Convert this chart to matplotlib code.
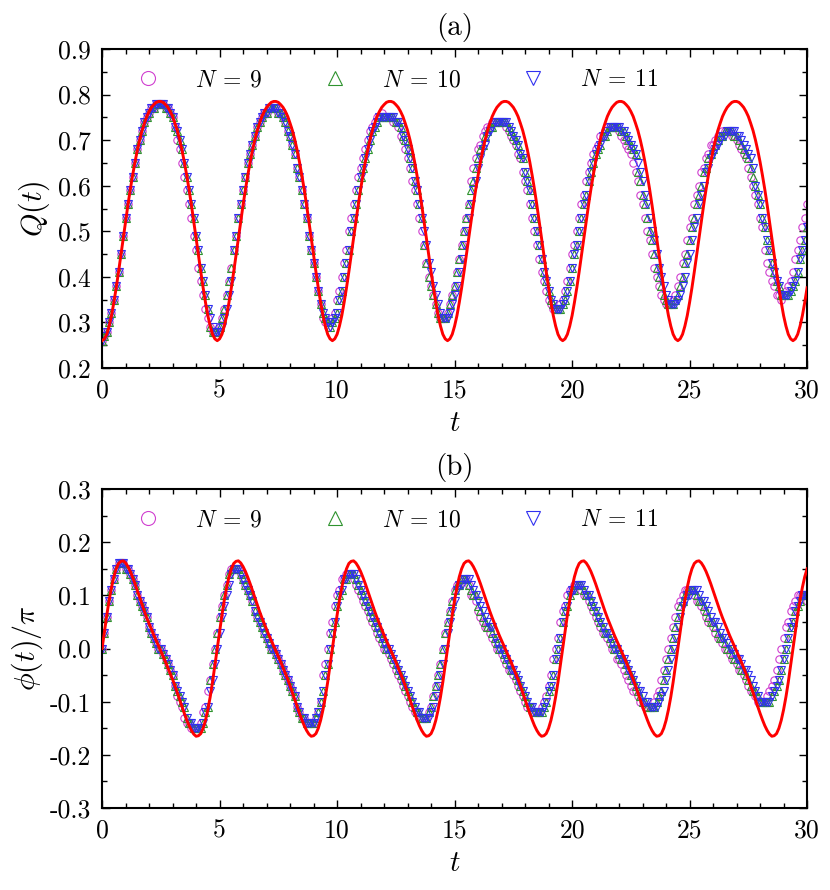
import numpy as np
import matplotlib
matplotlib.use("Agg")
import matplotlib.pyplot as plt
from matplotlib.ticker import MultipleLocator, FormatStrFormatter

plt.rcParams['font.family'] = 'serif'
plt.rcParams['font.serif'] = ['cmr10']
plt.rcParams['mathtext.fontset'] = 'cm'
plt.rcParams['axes.unicode_minus'] = False

# ---------------- data ----------------
t = np.round(np.arange(301) * 0.1, 1)          # sampling grid 0 ... 30

# red theory curve Q(t) (x1000)
Q_red_x1000 = [
    260, 264, 274, 292, 315, 344, 376, 411, 448, 485, 522, 558, 592, 623, 652, 678, 701, 721, 737, 752,
    763, 772, 778, 783, 785, 785, 783, 778, 772, 763, 752, 737, 721, 701, 678, 652, 623, 592, 558, 522,
    485, 448, 411, 376, 344, 315, 292, 274, 264,
    260, 264, 274, 292, 315, 344, 376, 411, 448, 485, 522, 558, 592, 623, 652, 678, 701, 721, 737, 752,
    763, 772, 778, 783, 785, 785, 783, 778, 772, 763, 752, 737, 721, 701, 678, 652, 623, 592, 558, 522,
    485, 448, 411, 376, 344, 315, 292, 274, 264,
    260, 264, 274, 292, 315, 344, 376, 411, 448, 485, 522, 558, 592, 623, 652, 678, 701, 721, 737, 752,
    763, 772, 778, 783, 785, 785, 783, 778, 772, 763, 752, 737, 721, 701, 678, 652, 623, 592, 558, 522,
    485, 448, 411, 376, 344, 315, 292, 274, 264,
    260, 264, 274, 292, 315, 344, 376, 411, 448, 485, 522, 558, 592, 623, 652, 678, 701, 721, 737, 752,
    763, 772, 778, 783, 785, 785, 783, 778, 772, 763, 752, 737, 721, 701, 678, 652, 623, 592, 558, 522,
    485, 448, 411, 376, 344, 315, 292, 274, 264,
    260, 264, 274, 292, 315, 344, 376, 411, 448, 485, 522, 558, 592, 623, 652, 678, 701, 721, 737, 752,
    763, 772, 778, 783, 785, 785, 783, 778, 772, 763, 752, 737, 721, 701, 678, 652, 623, 592, 558, 522,
    485, 448, 411, 376, 344, 315, 292, 274, 264,
    260, 264, 274, 292, 315, 344, 376, 411, 448, 485, 522, 558, 592, 623, 652, 678, 701, 721, 737, 752,
    763, 772, 778, 783, 785, 785, 783, 778, 772, 763, 752, 737, 721, 701, 678, 652, 623, 592, 558, 522,
    485, 448, 411, 376, 344, 315, 292, 274, 264,
    260, 264, 274, 292, 315, 344, 376]

# red theory curve phi(t)/pi (x1000)
P_red_x1000 = [
    0, 32, 63, 91, 115, 135, 150, 160, 164, 165, 161, 154, 145, 134, 122, 109, 96, 83, 70, 58,
    47, 36, 25, 15, 5, -5, -15, -25, -36, -47, -58, -70, -83, -96, -109, -122, -134, -145, -154, -161,
    -165, -164, -160, -150, -135, -115, -91, -63, -32,
    0, 32, 63, 91, 115, 135, 150, 160, 164, 165, 161, 154, 145, 134, 122, 109, 96, 83, 70, 58,
    47, 36, 25, 15, 5, -5, -15, -25, -36, -47, -58, -70, -83, -96, -109, -122, -134, -145, -154, -161,
    -165, -164, -160, -150, -135, -115, -91, -63, -32,
    0, 32, 63, 91, 115, 135, 150, 160, 164, 165, 161, 154, 145, 134, 122, 109, 96, 83, 70, 58,
    47, 36, 25, 15, 5, -5, -15, -25, -36, -47, -58, -70, -83, -96, -109, -122, -134, -145, -154, -161,
    -165, -164, -160, -150, -135, -115, -91, -63, -32,
    0, 32, 63, 91, 115, 135, 150, 160, 164, 165, 161, 154, 145, 134, 122, 109, 96, 83, 70, 58,
    47, 36, 25, 15, 5, -5, -15, -25, -36, -47, -58, -70, -83, -96, -109, -122, -134, -145, -154, -161,
    -165, -164, -160, -150, -135, -115, -91, -63, -32,
    0, 32, 63, 91, 115, 135, 150, 160, 164, 165, 161, 154, 145, 134, 122, 109, 96, 83, 70, 58,
    47, 36, 25, 15, 5, -5, -15, -25, -36, -47, -58, -70, -83, -96, -109, -122, -134, -145, -154, -161,
    -165, -164, -160, -150, -135, -115, -91, -63, -32,
    0, 32, 63, 91, 115, 135, 150, 160, 164, 165, 161, 154, 145, 134, 122, 109, 96, 83, 70, 58,
    47, 36, 25, 15, 5, -5, -15, -25, -36, -47, -58, -70, -83, -96, -109, -122, -134, -145, -154, -161,
    -165, -164, -160, -150, -135, -115, -91, -63, -32,
    0, 32, 63, 91, 115, 135, 150]

# numerical data, Q(t) (x100), one row per unit of t
Q9_x100 = [
    26, 27, 28, 30, 32, 35, 38, 41, 45, 49,
    53, 56, 59, 62, 65, 68, 70, 72, 74, 75,
    76, 77, 77, 78, 78, 78, 78, 77, 77, 76,
    75, 73, 70, 68, 65, 62, 59, 56, 53, 49,
    46, 42, 39, 36, 33, 31, 29, 28, 28, 28,
    29, 31, 33, 36, 39, 42, 46, 49, 53, 56,
    59, 62, 65, 67, 69, 71, 73, 74, 75, 76,
    76, 77, 77, 77, 77, 76, 76, 75, 74, 72,
    71, 69, 67, 64, 62, 59, 56, 53, 49, 46,
    43, 40, 37, 34, 31, 30, 29, 30, 31, 32,
    35, 37, 40, 43, 46, 50, 53, 56, 59, 62,
    64, 66, 68, 70, 72, 73, 74, 75, 75, 76,
    75, 75, 75, 75, 74, 74, 73, 71, 70, 68,
    66, 64, 61, 59, 56, 53, 50, 47, 43, 40,
    38, 36, 34, 32, 31, 31, 31, 32, 34, 36,
    38, 41, 44, 47, 50, 53, 56, 61, 64, 66,
    68, 69, 71, 72, 73, 73, 74, 74, 74, 74,
    74, 74, 73, 72, 71, 70, 69, 67, 66, 63,
    61, 59, 56, 53, 50, 47, 44, 41, 39, 37,
    35, 34, 33, 33, 33, 34, 35, 37, 39, 42,
    45, 47, 50, 53, 56, 58, 61, 63, 65, 67,
    68, 69, 71, 71, 72, 73, 73, 73, 73, 73,
    72, 71, 70, 69, 68, 67, 65, 63, 61, 58,
    56, 53, 50, 48, 45, 42, 40, 38, 36, 35,
    34, 34, 34, 35, 36, 38, 40, 43, 45, 48,
    51, 53, 56, 58, 60, 63, 64, 66, 67, 69,
    69, 70, 71, 71, 72, 72, 72, 72, 71, 71,
    70, 69, 68, 67, 66, 64, 62, 60, 58, 56,
    53, 51, 46, 43, 41, 39, 38, 36, 36, 35,
    36, 37, 38, 39, 41, 44, 46, 48, 51, 53,
    56]
Q10_x100 = [
    26, 27, 28, 30, 32, 35, 38, 41, 45, 49,
    53, 56, 59, 62, 65, 68, 70, 72, 74, 75,
    76, 77, 77, 78, 78, 78, 78, 77, 77, 76,
    75, 73, 72, 70, 68, 65, 62, 59, 56, 53,
    49, 46, 42, 39, 36, 33, 29, 28, 28, 28,
    29, 31, 33, 36, 39, 42, 46, 49, 53, 56,
    59, 62, 65, 67, 69, 71, 73, 74, 75, 76,
    76, 77, 77, 77, 77, 76, 76, 75, 74, 72,
    71, 69, 67, 64, 62, 59, 56, 53, 49, 46,
    43, 40, 37, 34, 32, 31, 30, 29, 30, 31,
    32, 35, 37, 40, 43, 46, 50, 53, 56, 59,
    62, 64, 66, 68, 70, 72, 73, 74, 75, 75,
    75, 75, 75, 75, 75, 74, 74, 73, 71, 70,
    68, 66, 64, 61, 59, 56, 53, 47, 43, 40,
    38, 36, 34, 32, 31, 31, 31, 32, 34, 36,
    38, 41, 44, 47, 50, 53, 56, 59, 61, 64,
    66, 68, 69, 71, 72, 73, 73, 74, 74, 74,
    74, 74, 74, 73, 72, 71, 70, 69, 67, 66,
    63, 61, 59, 56, 53, 50, 47, 44, 41, 39,
    37, 35, 34, 33, 33, 33, 34, 35, 37, 39,
    42, 45, 47, 50, 53, 56, 58, 61, 63, 65,
    67, 68, 69, 71, 71, 72, 73, 73, 73, 73,
    73, 72, 72, 71, 70, 69, 68, 67, 63, 61,
    58, 56, 53, 50, 48, 45, 42, 40, 38, 36,
    35, 34, 34, 34, 35, 36, 38, 40, 43, 45,
    48, 51, 53, 56, 58, 60, 63, 64, 66, 67,
    68, 69, 70, 71, 71, 72, 72, 72, 72, 71,
    71, 70, 69, 68, 67, 66, 64, 62, 60, 58,
    56, 53, 51, 48, 46, 43, 41, 39, 38, 36,
    36, 36, 36, 37, 38, 39, 41, 44, 46, 48,
    51]
Q11_x100 = [
    26, 27, 28, 30, 32, 35, 38, 41, 45, 49,
    53, 56, 59, 62, 65, 68, 70, 72, 74, 75,
    76, 77, 77, 78, 78, 78, 78, 77, 77, 76,
    75, 73, 72, 70, 68, 65, 62, 59, 56, 53,
    49, 46, 42, 39, 36, 33, 31, 29, 28, 28,
    28, 29, 31, 33, 36, 39, 46, 49, 53, 56,
    59, 62, 65, 67, 69, 71, 73, 74, 75, 76,
    76, 77, 77, 77, 77, 76, 76, 75, 74, 72,
    71, 69, 67, 64, 62, 59, 56, 53, 49, 46,
    43, 40, 37, 34, 32, 31, 30, 29, 30, 31,
    32, 35, 37, 40, 43, 46, 50, 53, 56, 59,
    62, 64, 66, 68, 70, 72, 73, 74, 75, 75,
    75, 75, 75, 75, 75, 74, 74, 73, 71, 70,
    68, 66, 64, 61, 59, 56, 53, 50, 47, 43,
    41, 38, 36, 34, 32, 31, 31, 31, 32, 34,
    36, 38, 41, 44, 47, 50, 53, 56, 59, 61,
    64, 66, 68, 69, 71, 72, 73, 74, 74, 74,
    74, 74, 74, 73, 72, 71, 70, 69, 67, 66,
    63, 61, 59, 56, 53, 50, 47, 44, 41, 39,
    37, 35, 34, 33, 33, 33, 34, 35, 37, 39,
    42, 45, 47, 50, 53, 56, 58, 61, 63, 65,
    67, 68, 69, 71, 71, 72, 73, 73, 73, 73,
    73, 72, 72, 71, 70, 69, 68, 67, 65, 63,
    61, 58, 56, 53, 50, 48, 45, 42, 40, 38,
    36, 35, 34, 34, 34, 35, 36, 38, 40, 43,
    45, 48, 51, 53, 56, 58, 60, 63, 64, 66,
    67, 68, 69, 70, 71, 71, 72, 72, 72, 72,
    71, 71, 70, 69, 68, 67, 66, 64, 60, 58,
    56, 53, 51, 48, 46, 43, 41, 39, 38, 36,
    36, 36, 36, 37, 38, 39, 41, 44, 46, 48,
    51]

# numerical data, phi(t)/pi (x100)
P9_x100 = [
    0, 3, 6, 9, 11, 13, 15, 16, 16, 16,
    15, 15, 14, 13, 12, 10, 9, 8, 7, 6,
    4, 3, 2, 1, 0, 0, -1, -2, -3, -4,
    -5, -7, -9, -10, -11, -13, -14, -14, -15, -15,
    -15, -15, -14, -12, -11, -8, -6, -3, 0, 3,
    6, 8, 10, 12, 14, 15, 15, 15, 15, 14,
    13, 12, 11, 10, 9, 7, 6, 5, 4, 3,
    2, 1, 0, 0, -1, -2, -3, -4, -5, -6,
    -7, -8, -9, -11, -12, -13, -13, -14, -14, -14,
    -14, -13, -12, -10, -5, -3, 0, 3, 5, 8,
    10, 11, 13, 13, 14, 14, 14, 13, 12, 11,
    10, 9, 8, 7, 6, 5, 4, 3, 2, 1,
    0, 0, -1, -2, -3, -4, -5, -6, -7, -8,
    -9, -10, -11, -12, -12, -13, -13, -13, -13, -12,
    -11, -9, -7, -5, -3, 0, 3, 5, 7, 9,
    11, 12, 12, 13, 13, 13, 12, 10, 10, 9,
    7, 6, 5, 4, 4, 3, 2, 1, 0, 0,
    -1, -2, -3, -4, -4, -5, -6, -7, -8, -9,
    -10, -11, -11, -12, -12, -12, -12, -11, -10, -9,
    -7, -5, -2, 0, 2, 5, 7, 8, 10, 11,
    11, 12, 12, 12, 11, 10, 10, 9, 8, 7,
    6, 5, 4, 3, 3, 2, 1, 0, 0, -2,
    -2, -3, -4, -5, -6, -7, -8, -8, -9, -10,
    -10, -11, -11, -11, -11, -10, -9, -8, -6, -4,
    -2, 0, 2, 4, 6, 8, 9, 10, 11, 11,
    11, 11, 10, 9, 9, 8, 7, 6, 5, 5,
    4, 3, 2, 2, 1, 0, 0, -1, -2, -2,
    -3, -4, -4, -5, -6, -7, -8, -8, -9, -10,
    -10, -10, -10, -9, -8, -7, -6, -4, -2, 0,
    2, 4, 5, 7, 8, 9, 10, 10, 10, 10,
    9]
P10_x100 = [
    0, 3, 6, 9, 11, 13, 15, 16, 16, 16,
    15, 15, 14, 13, 12, 10, 9, 8, 7, 6,
    4, 3, 2, 1, 0, 0, -1, -2, -3, -4,
    -5, -7, -8, -9, -10, -11, -13, -14, -14, -15,
    -15, -15, -15, -14, -12, -11, -6, -3, 0, 3,
    6, 8, 10, 12, 14, 15, 15, 15, 15, 14,
    13, 12, 11, 10, 9, 7, 6, 5, 4, 3,
    2, 1, 0, 0, -1, -2, -3, -4, -5, -6,
    -7, -8, -9, -11, -12, -13, -13, -14, -14, -14,
    -14, -13, -12, -10, -8, -5, -3, 0, 3, 5,
    8, 10, 11, 13, 13, 14, 14, 14, 13, 12,
    11, 10, 9, 8, 7, 6, 5, 4, 3, 2,
    1, 0, 0, -1, -2, -3, -4, -5, -6, -7,
    -8, -9, -10, -11, -12, -12, -13, -13, -13, -12,
    -11, -9, -7, -5, -3, 0, 3, 5, 7, 9,
    11, 12, 12, 13, 13, 13, 12, 11, 10, 10,
    8, 7, 6, 5, 4, 4, 3, 2, 1, 0,
    0, -1, -2, -3, -4, -4, -5, -6, -7, -8,
    -9, -10, -11, -11, -12, -12, -12, -12, -11, -10,
    -8, -7, -5, -2, 0, 2, 5, 7, 8, 10,
    11, 11, 12, 12, 12, 11, 10, 10, 9, 8,
    7, 6, 5, 4, 3, 3, 2, 1, 0, 0,
    -1, -2, -2, -3, -4, -5, -6, -7, -8, -9,
    -10, -10, -11, -11, -11, -11, -10, -9, -8, -6,
    -4, -2, 0, 2, 4, 6, 8, 9, 10, 11,
    11, 11, 11, 10, 9, 9, 8, 7, 6, 5,
    5, 4, 3, 2, 2, 1, 0, 0, -1, -2,
    -2, -3, -4, -4, -5, -6, -7, -8, -8, -9,
    -10, -10, -10, -10, -10, -9, -8, -7, -6, -4,
    -2, 0, 2, 4, 5, 7, 8, 9, 10, 10,
    10]
P11_x100 = [
    0, 3, 6, 9, 11, 13, 15, 16, 16, 16,
    15, 15, 14, 13, 12, 10, 9, 8, 7, 6,
    4, 3, 2, 1, 0, 0, -1, -2, -3, -4,
    -5, -7, -8, -9, -10, -11, -13, -14, -14, -15,
    -15, -15, -15, -14, -12, -11, -8, -6, -3, 0,
    3, 6, 8, 10, 12, 14, 15, 15, 15, 14,
    13, 12, 11, 10, 9, 7, 6, 5, 4, 3,
    2, 1, 0, 0, -1, -2, -3, -4, -5, -6,
    -7, -8, -9, -11, -12, -13, -13, -14, -14, -14,
    -14, -13, -12, -10, -8, -5, -3, 0, 3, 5,
    8, 10, 11, 13, 13, 14, 14, 14, 13, 12,
    11, 10, 9, 8, 7, 6, 5, 4, 3, 2,
    1, 0, 0, -1, -2, -3, -4, -5, -6, -7,
    -8, -9, -10, -11, -12, -12, -13, -13, -13, -13,
    -12, -11, -9, -7, -5, -3, 0, 3, 5, 7,
    9, 11, 12, 12, 13, 13, 13, 12, 11, 10,
    9, 8, 7, 6, 5, 4, 4, 2, 1, 0,
    0, -1, -2, -3, -4, -4, -5, -6, -7, -8,
    -9, -10, -11, -11, -12, -12, -12, -12, -11, -10,
    -8, -7, -5, -2, 0, 2, 5, 7, 8, 10,
    11, 11, 12, 12, 12, 11, 10, 10, 9, 8,
    7, 6, 5, 4, 3, 3, 2, 1, 0, 0,
    -1, -2, -2, -3, -4, -5, -6, -7, -8, -8,
    -9, -10, -10, -11, -11, -11, -11, -10, -9, -8,
    -6, -4, -2, 0, 2, 4, 6, 8, 9, 10,
    10, 11, 11, 11, 10, 9, 9, 8, 7, 6,
    5, 5, 4, 3, 2, 2, 1, 0, 0, -1,
    -2, -2, -3, -4, -4, -5, -6, -7, -8, -9,
    -10, -10, -10, -10, -10, -9, -8, -7, -6, -4,
    -2, 0, 2, 4, 5, 7, 8, 9, 10, 10,
    10]

labels = [r'$N\:=\:9$', r'$N\:=\:10$', r'$N\:=\:11$']
x_ticks = [0, 5, 10, 15, 20, 25, 30]

# ---------------- styling ----------------
MAG = '#d040d0'
GRN = '#2e932e'
BLU = '#3030f0'
RED = '#ff0000'

fig = plt.figure(figsize=(8.3, 8.9), dpi=100)
ax1 = fig.add_axes([0.123, 0.5865, 0.8494, 0.3584])
ax2 = fig.add_axes([0.123, 0.0921, 0.8494, 0.3584])


def draw(ax, series, red, ylim, yticks, ylabel, panel, ylab_x):
    styles = [('o', MAG), ('^', GRN), ('v', BLU)]
    for (mk, col), y, lab in zip(styles, series, labels):
        ax.plot(t, y, ls='none', marker=mk, ms=5.3, mfc='none', mec=col,
                mew=0.8, label=lab, zorder=2)
    ax.plot(t, red, color=RED, lw=2.1, zorder=3)
    ax.set_xlim(0, 30)
    ax.set_ylim(*ylim)
    ax.set_xticks(x_ticks)
    ax.xaxis.set_minor_locator(MultipleLocator(1))
    ax.set_yticks(yticks)
    ax.yaxis.set_minor_locator(MultipleLocator(0.05))
    ax.yaxis.set_major_formatter(FormatStrFormatter('%.1f'))
    ax.tick_params(which='both', direction='in', top=True, right=True, width=1.0)
    ax.tick_params(which='major', length=6, labelsize=18.5, pad=8)
    ax.tick_params(which='minor', length=3.5)
    for sp in ax.spines.values():
        sp.set_linewidth(1.5)
    ax.set_xlabel(r'$t$', fontsize=21)
    ax.xaxis.set_label_coords(0.5, -0.135)
    ax.set_ylabel(ylabel, fontsize=21.5)
    ax.yaxis.set_label_coords(ylab_x, 0.5)
    ax.text(0.5, 1.069, panel, transform=ax.transAxes, ha='center', va='center',
            fontsize=21)
    ax.legend(loc='center left', bbox_to_anchor=(0.048, 0.903), ncol=3,
              frameon=False, fontsize=17, handlelength=1.0, handletextpad=1.5,
              columnspacing=2.55, markerscale=1.9, borderpad=0, borderaxespad=0)


Q_series = [np.array(Q9_x100) / 100, np.array(Q10_x100) / 100, np.array(Q11_x100) / 100]
P_series = [np.array(P9_x100) / 100, np.array(P10_x100) / 100, np.array(P11_x100) / 100]

draw(ax1, Q_series, np.array(Q_red_x1000) / 1000, (0.2, 0.9),
     [0.2, 0.3, 0.4, 0.5, 0.6, 0.7, 0.8, 0.9], r'$Q(t)$', '(a)', -0.071)
draw(ax2, P_series, np.array(P_red_x1000) / 1000, (-0.3, 0.3),
     [-0.3, -0.2, -0.1, 0.0, 0.1, 0.2, 0.3], r'$\phi(t)/\pi$', '(b)', -0.081)

fig.savefig('out.png', dpi=100)
